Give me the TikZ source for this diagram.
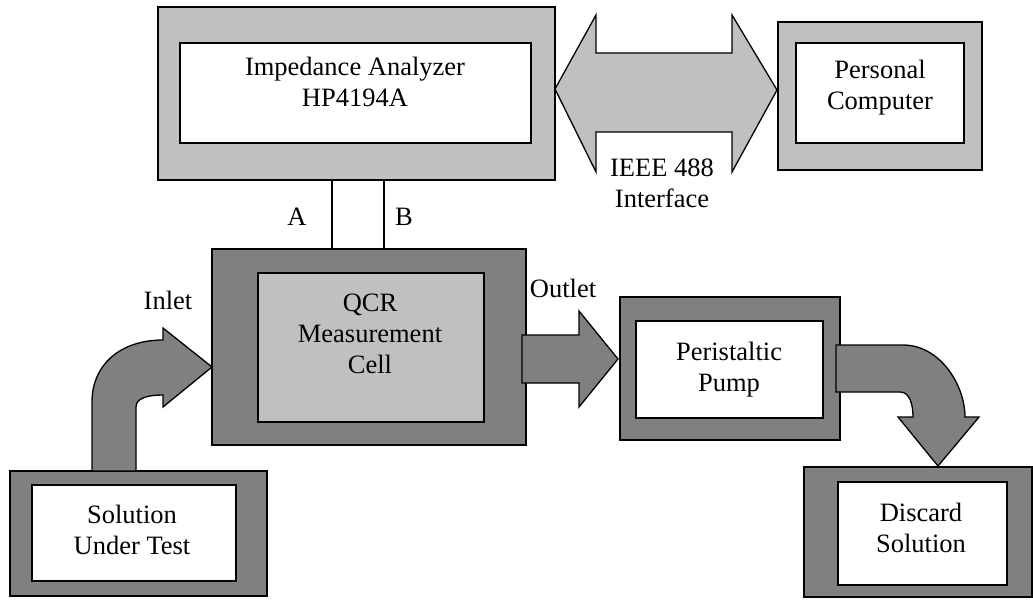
\documentclass[tikz,border=0pt]{standalone}
\usepackage{fontspec}
\setmainfont{Liberation Serif}
\definecolor{lgray}{RGB}{192,192,192}
\definecolor{dgray}{RGB}{128,128,128}
\begin{document}
\begin{tikzpicture}[x=1pt, y=-1pt,
  box/.style={draw, line width=1.3pt, inner sep=0pt},
  txt/.style={font=\fontsize{26.5}{31}\selectfont, align=center, inner sep=0pt},
  blockarrow/.style={draw, line width=1.3pt, line join=miter}]

\useasboundingbox (0,0) rectangle (1033,602);

% Impedance analyzer
\node[box, fill=lgray, minimum width=397pt, minimum height=173pt] (imp) at (356.5,93.5) {};
\node[box, fill=white, minimum width=351pt, minimum height=100pt] (impin) at (355.5,93) {};
\node[txt] (implabel) at (355,82) {Impedance Analyzer\\HP4194A};

% Personal computer
\node[box, fill=lgray, minimum width=204pt, minimum height=148pt] (pc) at (880,96) {};
\node[box, fill=white, minimum width=168pt, minimum height=100pt] (pcin) at (880,93) {};
\node[txt] (pclabel) at (880,88) {Personal\\Computer};

% QCR cell
\node[box, fill=dgray, minimum width=314pt, minimum height=196pt] (qcr) at (369,347) {};
\node[box, fill=lgray, minimum width=226pt, minimum height=149pt] (qcrin) at (371,347.5) {};
\node[txt] (qcrlabel) at (370,334) {QCR\\Measurement\\Cell};

% Peristaltic pump
\node[box, fill=dgray, minimum width=220pt, minimum height=143pt] (pump) at (730,368.5) {};
\node[box, fill=white, minimum width=187pt, minimum height=97pt] (pumpin) at (729.5,369.5) {};
\node[txt] (pumplabel) at (729,370) {Peristaltic\\Pump};

% Solution under test
\node[box, fill=dgray, minimum width=257pt, minimum height=125pt] (sol) at (138.5,533.5) {};
\node[box, fill=white, minimum width=204pt, minimum height=96pt] (solin) at (134,533) {};
\node[txt] (sollabel) at (132,530) {Solution\\Under Test};

% Discard solution
\node[box, fill=dgray, minimum width=228pt, minimum height=130pt] (disc) at (918,532) {};
\node[box, fill=white, minimum width=169pt, minimum height=103pt] (discin) at (922.5,533.5) {};
\node[txt] (disclabel) at (921,527.5) {Discard\\Solution};

% IEEE 488 bus
\draw[blockarrow, fill=lgray]
(555,89) -- (596,15) -- (596,53) -- (732,53) -- (732,15) -- (777,90)
-- (732,172) -- (732,132) -- (596,132) -- (596,172) -- cycle;
\node[txt] (bus) at (662,183.5) {IEEE 488\\Interface};

% Terminals A and B
\coordinate (pa) at (332,0);
\coordinate (pb) at (384,0);
\draw[line width=1.3pt] (imp.south -| pa) -- (qcr.north -| pa);
\draw[line width=1.3pt] (imp.south -| pb) -- (qcr.north -| pb);
\node[txt] (ta) at (297,217) {A};
\node[txt] (tb) at (404,217) {B};

% Inlet
\draw[blockarrow, fill=dgray]
(92,471) -- (92,402) .. controls (92,365) and (120,340) .. (163,340)
-- (163,328) -- (212,367) -- (163,407) -- (163,395)
.. controls (148,395) and (136,398) .. (136,407) -- (136,471) -- cycle;
\node[txt] (inlet) at (168,300) {Inlet};

% Outlet
\draw[blockarrow, fill=dgray]
(522,335) -- (579,335) -- (579,311) -- (618,359) -- (579,407)
-- (579,383) -- (522,383) -- cycle;
\node[txt] (outlet) at (563,288) {Outlet};

% To discard
\draw[blockarrow, fill=dgray]
(836,345) -- (903,345) .. controls (940,345) and (965,385) .. (965,417)
-- (979,417) -- (938,466) -- (898,417) -- (913,417)
.. controls (913,405) and (910,392) .. (900,392) -- (836,392) -- cycle;

\end{tikzpicture}
\end{document}
